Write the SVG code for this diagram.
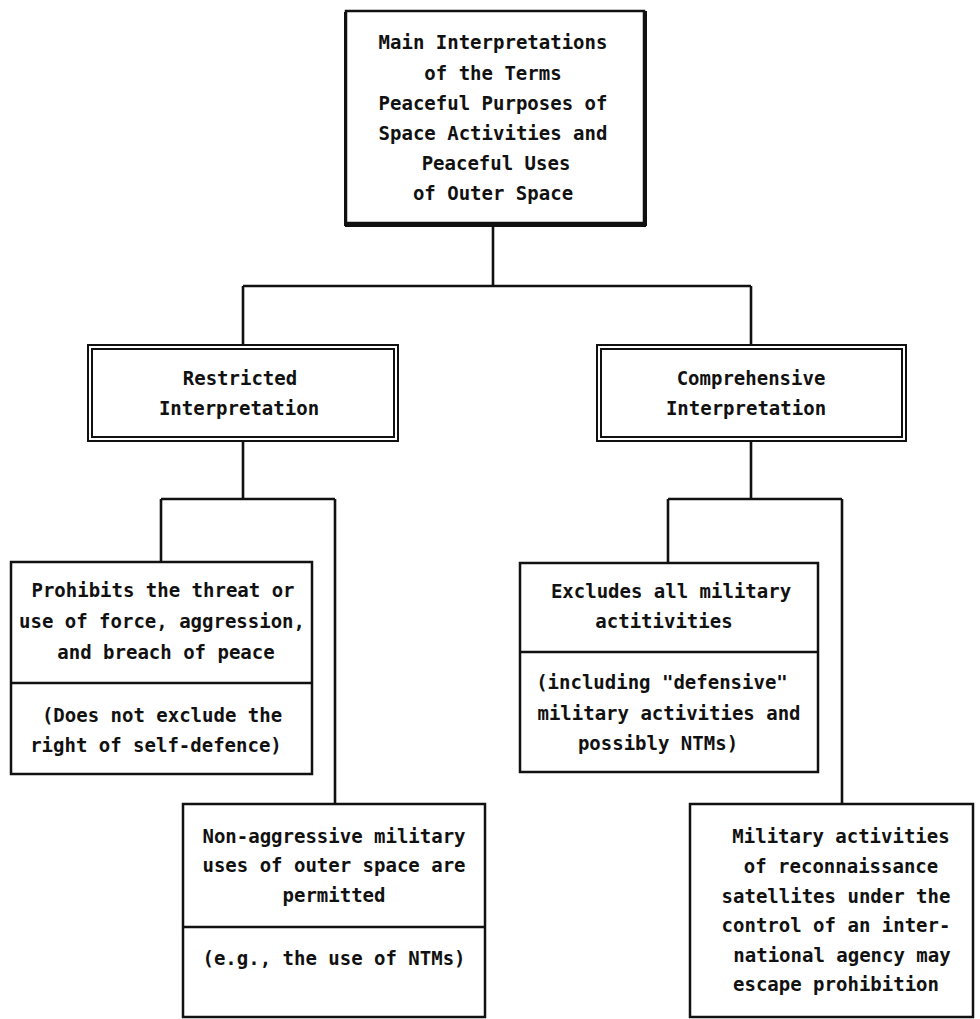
<svg xmlns="http://www.w3.org/2000/svg" width="980" height="1019" viewBox="0 0 980 1019">
<style>
text{font-family:"DejaVu Sans Mono","Liberation Mono",monospace;font-size:19px;font-weight:bold;fill:#111;text-anchor:middle}
.b{fill:#fff;stroke:#111;stroke-width:2.5}
.d{fill:none;stroke:#111;stroke-width:2}
.c{fill:none;stroke:#111;stroke-width:2.6}
</style>
<rect width="980" height="1019" fill="#fff"/>
<g id="connectors">
<path class="c" d="M493 225V286M243 286H751M243 286V345M751 286V345"/>
<path class="c" d="M243 441V499M161 499H335M161 499V562M335 499V804"/>
<path class="c" d="M751 441V499M668 499H842M668 499V563M842 499V804"/>
</g>
<g id="main">
<rect class="b" x="346" y="11" width="298" height="212" stroke-width="3"/>
<path d="M345 225.5H646M345.5 12V226M645.5 11V226" stroke="#111" stroke-width="3" fill="none"/>
<text x="493" y="49">Main Interpretations</text>
<text x="493" y="80">of the Terms</text>
<text x="493" y="110">Peaceful Purposes of</text>
<text x="493" y="140">Space Activities and</text>
<text x="496" y="170">Peaceful Uses</text>
<text x="493" y="200">of Outer Space</text>
</g>
<g id="restricted">
<rect class="d" x="88" y="345" width="310" height="96"/>
<rect class="d" x="92" y="349" width="302" height="88"/>
<text x="240" y="385">Restricted</text>
<text x="239" y="415">Interpretation</text>
</g>
<g id="comprehensive">
<rect class="d" x="597" y="345" width="309" height="96"/>
<rect class="d" x="601" y="349" width="301" height="88"/>
<text x="751" y="385">Comprehensive</text>
<text x="746" y="415">Interpretation</text>
</g>
<g id="prohibits">
<rect class="b" x="11" y="562" width="301" height="212"/>
<line class="c" x1="11" y1="683" x2="312" y2="683"/>
<text x="163" y="597">Prohibits the threat or</text>
<text x="162" y="628">use of force, aggression,</text>
<text x="166" y="659">and breach of peace</text>
<text x="162" y="722">(Does not exclude the</text>
<text x="156" y="752">right of self-defence)</text>
</g>
<g id="excludes">
<rect class="b" x="520" y="563" width="298" height="209"/>
<line class="c" x1="520" y1="652" x2="818" y2="652"/>
<text x="671" y="598">Excludes all military</text>
<text x="664" y="628">actitivities</text>
<text x="662" y="689">(including "defensive"</text>
<text x="669" y="720">military activities and</text>
<text x="658" y="750">possibly NTMs)</text>
</g>
<g id="nonaggressive">
<rect class="b" x="183" y="804" width="302" height="213"/>
<line class="c" x1="183" y1="927" x2="485" y2="927"/>
<text x="334" y="843">Non-aggressive military</text>
<text x="334" y="872">uses of outer space are</text>
<text x="334" y="902">permitted</text>
<text x="334" y="965">(e.g., the use of NTMs)</text>
</g>
<g id="military">
<rect class="b" x="690" y="804" width="283" height="213"/>
<text x="841" y="843">Military activities</text>
<text x="841" y="873">of reconnaissance</text>
<text x="836" y="903">satellites under the</text>
<text x="836" y="932">control of an inter-</text>
<text x="842" y="962">national agency may</text>
<text x="836" y="991">escape prohibition</text>
</g>
</svg>
